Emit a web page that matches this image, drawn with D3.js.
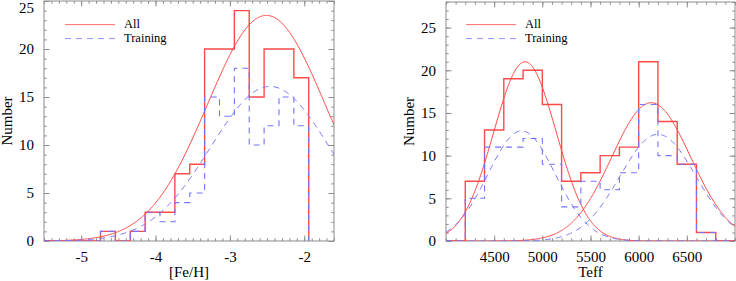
<!DOCTYPE html>
<html>
<head>
<meta charset="utf-8">
<script src="https://cdn.jsdelivr.net/npm/d3@7"></script>
<style>
body { margin: 0; background: white; }
text { font-family: "Liberation Serif", "Times New Roman", serif; fill: black; }
</style>
</head>
<body>
<div id="chart"></div>
<script>
var svgWidth = 736
var svgHeight = 281

// [Fe/H] histograms, bins 0.2 dex wide starting at -5.54
var fehBinStart = -5.54
var fehBinWidth = 0.2
var fehAll = [0, 0, 0, 0, 1, 0, 1, 3, 3, 7, 8, 20, 20, 24, 15, 20, 20, 17]
var fehTraining = [0, 0, 0, 0, 1, 0, 1, 3, 2, 4, 5, 15, 13, 18, 10, 12, 15, 12]
// gaussian fits: [amplitude, mean, sigma]
var fehFitAll = [[23.5, -2.51, 0.79]]
var fehFitTraining = [[16.1, -2.46, 0.80]]
var fehTicks = [-5, -4, -3, -2]

// Teff histograms, bins 200 K wide starting at 4000
var teffBinStart = 4000
var teffBinWidth = 200
var teffAll = [0, 7, 13, 19, 20, 16, 7, 8, 10, 11, 21, 14, 9, 1, 0]
var teffTraining = [0, 5, 11, 11, 12, 9, 4, 7, 6, 8, 16, 10, 9, 1, 0]
var teffFitAll = [[21.0, 4820, 325], [16.2, 6130, 410]]
var teffFitTraining = [[12.9, 4785, 350], [12.5, 6200, 395]]
var teffTicks = [4500, 5000, 5500, 6000, 6500]

var countTicks = [0, 5, 10, 15, 20, 25]
var legendLabels = ["All", "Training"]

var redColor = "#ff4a4a"
var blueColor = "#7474ff"
var frameColor = "#8c8c8c"

var svg = d3.select("div#chart")
	.append("svg")
	.attr("width", svgWidth)
	.attr("height", svgHeight)
	.style("background-color", "white")
	.style("display", "block")

var stepTicks = function(domain, step) {
	var lo = Math.ceil(domain[0] / step - 1e-6)
	var hi = Math.floor(domain[1] / step + 1e-6)
	return d3.range(lo, hi + 1).map(function(k) { return +(k * step).toFixed(6) })
}

var drawPanel = function(p) {
	var x = d3.scaleLinear().domain(p.xDomain).range([p.left, p.right])
	var y = d3.scaleLinear().domain(p.yDomain).range([p.bottom, p.top])
	var g = svg.append("g").attr("id", p.id)

	g.append("clipPath")
		.attr("id", p.id + "-clip")
		.append("rect")
		.attr("x", p.left)
		.attr("y", p.top)
		.attr("width", p.right - p.left)
		.attr("height", p.bottom - p.top)

	// ticks, all pointing inward, on the four sides
	var xMinor = stepTicks(p.xDomain, p.xMinorStep)
	var yMinor = stepTicks(p.yDomain, 1)
	var plain = function(d) { return String(d) }
	var axes = [
		[d3.axisBottom(x), "translate(0," + p.bottom + ")", p.xTicks, xMinor, true],
		[d3.axisTop(x), "translate(0," + p.top + ")", p.xTicks, xMinor, false],
		[d3.axisLeft(y), "translate(" + p.left + ",0)", countTicks, yMinor, true],
		[d3.axisRight(y), "translate(" + p.right + ",0)", countTicks, yMinor, false]
	]
	axes.forEach(function(a) {
		var minorG = g.append("g")
			.attr("transform", a[1])
			.call(a[0].tickValues(a[3]).tickSize(-2.7).tickFormat(""))
		minorG.select(".domain").remove()
		minorG.selectAll("line").attr("stroke", frameColor)
		var majorG = g.append("g")
			.attr("transform", a[1])
			.call(a[0].tickValues(a[2]).tickSize(-5.5).tickPadding(a[4] ? 10 : 0).tickFormat(a[4] ? plain : ""))
			.attr("font-family", null)
			.attr("font-size", null)
		majorG.select(".domain").remove()
		majorG.selectAll("line").attr("stroke", frameColor)
		majorG.selectAll("text")
			.style("font-size", "15px")
			.attr("fill", "black")
	})
	// a label sitting on the top edge is pushed down to stay in view
	g.selectAll(".tick text").each(function() {
		var box = this.getBBox()
		var m = this.parentNode.transform.baseVal.consolidate()
		var top = (m ? m.matrix.f : 0) + box.y
		if (top < 0) {
			d3.select(this).attr("y", (+d3.select(this).attr("y") || 0) - top)
		}
	})

	g.append("rect")
		.attr("x", p.left)
		.attr("y", p.top)
		.attr("width", p.right - p.left)
		.attr("height", p.bottom - p.top)
		.attr("fill", "none")
		.attr("stroke", frameColor)
		.attr("stroke-width", 1)

	var stepLine = d3.line()
		.x(function(d) { return x(d[0]) })
		.y(function(d) { return y(d[1]) })
		.curve(d3.curveStepAfter)

	var histPoints = function(counts) {
		var pts = counts.map(function(c, i) { return [p.binStart + i * p.binWidth, c] })
		pts.push([p.binStart + counts.length * p.binWidth, 0])
		return pts
	}

	var fitLine = d3.line()
		.x(function(d) { return x(d[0]) })
		.y(function(d) { return y(d[1]) })

	var fitPoints = function(f) {
		var n = 300
		var dx = (p.xDomain[1] - p.xDomain[0]) / n
		return d3.range(n + 1).map(function(i) {
			var v = p.xDomain[0] + i * dx
			return [v, f[0] * Math.exp(-Math.pow(v - f[1], 2) / (2 * f[2] * f[2]))]
		})
	}

	var series = [
		{counts: p.all, fits: p.fitAll, color: redColor, dash: null, width: 1.4},
		{counts: p.training, fits: p.fitTraining, color: blueColor, dash: "6,5", width: 1.1}
	]
	var marks = g.append("g").attr("clip-path", "url(#" + p.id + "-clip)")
	series.forEach(function(s) {
		marks.append("path")
			.attr("d", stepLine(histPoints(s.counts)))
			.attr("fill", "none")
			.attr("stroke", s.color)
			.attr("stroke-width", s.width)
			.attr("stroke-dasharray", s.dash)
		s.fits.forEach(function(f) {
			marks.append("path")
				.attr("d", fitLine(fitPoints(f)))
				.attr("fill", "none")
				.attr("stroke", s.color)
				.attr("stroke-width", 1)
				.attr("stroke-dasharray", s.dash)
		})
	})

	// legend
	var legY = [24.6, 38.6]
	series.forEach(function(s, i) {
		g.append("line")
			.attr("x1", p.legX)
			.attr("x2", p.legX + 50)
			.attr("y1", legY[i])
			.attr("y2", legY[i])
			.attr("stroke", s.color)
			.attr("stroke-opacity", 0.8)
			.attr("stroke-width", 1)
			.attr("stroke-dasharray", s.dash)
		g.append("text")
			.attr("x", p.legX + 59)
			.attr("y", legY[i] + 3.5)
			.style("font-size", "12.5px")
			.text(legendLabels[i])
	})

	g.append("text")
		.attr("x", (p.left + p.right) / 2)
		.attr("y", 277)
		.attr("text-anchor", "middle")
		.style("font-size", "15px")
		.text(p.xLabel)

	g.append("text")
		.attr("transform", "translate(" + p.yLabelX + "," + ((p.top + p.bottom) / 2) + ") rotate(-90)")
		.attr("text-anchor", "middle")
		.style("font-size", "15px")
		.text("Number")
}

drawPanel({
	id: "feh", left: 44, right: 334, top: 1, bottom: 241,
	xDomain: [-5.5, -1.6], yDomain: [0, 25], xMinorStep: 0.1, xTicks: fehTicks,
	binStart: fehBinStart, binWidth: fehBinWidth,
	all: fehAll, training: fehTraining, fitAll: fehFitAll, fitTraining: fehFitTraining,
	legX: 65, xLabel: "[Fe/H]", yLabelX: 12
})

drawPanel({
	id: "teff", left: 446, right: 735, top: 2, bottom: 241,
	xDomain: [4000, 7000], yDomain: [0, 28], xMinorStep: 100, xTicks: teffTicks,
	binStart: teffBinStart, binWidth: teffBinWidth,
	all: teffAll, training: teffTraining, fitAll: teffFitAll, fitTraining: teffFitTraining,
	legX: 466, xLabel: "Teff", yLabelX: 414
})
</script>
</body>
</html>
